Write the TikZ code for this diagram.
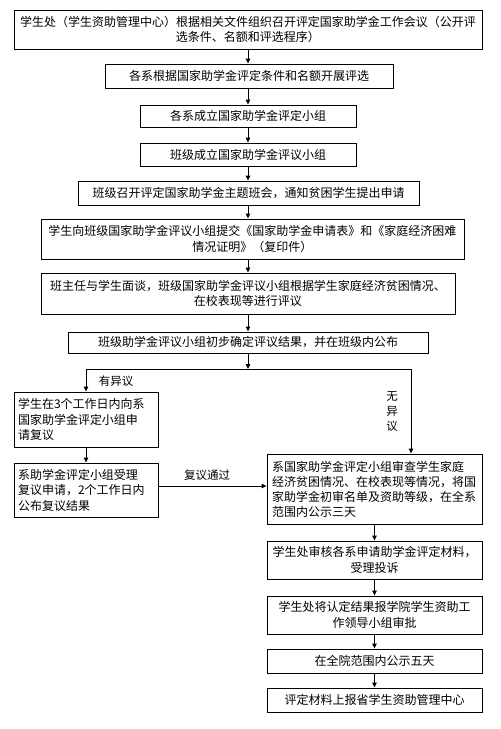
\documentclass[tikz,border=0pt]{standalone}
\usepackage{fontspec}
\newfontfamily\cjk{Noto Sans CJK SC}
\usetikzlibrary{arrows.meta}
\begin{document}
\begin{tikzpicture}[x=1pt,y=-1pt,
  box/.style={draw, line width=0.9pt, inner sep=0pt, align=center,
    font=\cjk\fontsize{12}{15.5}\selectfont},
  lbox/.style={box, align=left},
  arr/.style={line width=0.9pt, -{Triangle[length=5pt,width=4.5pt]}},
  ln/.style={line width=0.9pt},
  lab/.style={font=\cjk\fontsize{11.5}{15}\selectfont, inner sep=0pt}]
\useasboundingbox (0,0) rectangle (501,729);
\node[box, minimum width=468pt, minimum height=39pt] (b1) at (248,29.5)
  {学生处（学生资助管理中心）根据相关文件组织召开评定国家助学金工作会议（公开评\\选条件、名额和评选程序）};
\node[box, minimum width=288pt, minimum height=24pt] (b2) at (249,76)
  {各系根据国家助学金评定条件和名额开展评选};
\node[box, minimum width=216pt, minimum height=22pt] (b3) at (248,116)
  {各系成立国家助学金评定小组};
\node[box, minimum width=216pt, minimum height=23pt] (b4) at (248,154.5)
  {班级成立国家助学金评议小组};
\node[box, minimum width=341pt, minimum height=24pt] (b5) at (248.5,193)
  {班级召开评定国家助学金主题班会，通知贫困学生提出申请};
\node[box, minimum width=423pt, minimum height=40pt] (b6) at (252.5,239)
  {学生向班级国家助学金评议小组提交《国家助学金申请表》和《家庭经济困难\\情况证明》（复印件）};
\node[box, minimum width=414pt, minimum height=41pt] (b7) at (248,293.5)
  {班主任与学生面谈，班级国家助学金评议小组根据学生家庭经济贫困情况、\\在校表现等进行评议};
\node[box, minimum width=360pt, minimum height=21pt] (b8) at (248,342.5)
  {班级助学金评议小组初步确定评议结果，并在班级内公布};
\node[lbox, minimum width=144pt, minimum height=55pt, text width=136pt] (l1) at (86,419.5)
  {学生在3个工作日内向系\\国家助学金评定小组申\\请复议};
\node[lbox, minimum width=144pt, minimum height=54pt, text width=136pt] (l2) at (86,490)
  {系助学金评定小组受理\\复议申请，2个工作日内\\公布复议结果};
\node[lbox, minimum width=215pt, minimum height=70pt, text width=205pt,
  font=\cjk\fontsize{12}{15}\selectfont] (r1) at (374.5,489)
  {系国家助学金评定小组审查学生家庭\\经济贫困情况、在校表现等情况，将国\\家助学金初审名单及资助等级，在全系\\范围内公示三天};
\node[box, minimum width=215pt, minimum height=38pt] (r2) at (374.5,560)
  {学生处审核各系申请助学金评定材料，\\受理投诉};
\node[box, minimum width=215pt, minimum height=38pt] (r3) at (374.5,615)
  {学生处将认定结果报学院学生资助工\\作领导小组审批};
\node[box, minimum width=215pt, minimum height=24pt] (r4) at (374.5,661)
  {在全院范围内公示五天};
\node[box, minimum width=215pt, minimum height=24pt] (r5) at (374.5,700)
  {评定材料上报省学生资助管理中心};
\coordinate (j) at (248,369);
\coordinate (jl) at (86,369);
\coordinate (jr) at (411,369);
\draw[arr] (b1.south -| j) -- (b2.north -| j);
\draw[arr] (b2.south -| j) -- (b3.north -| j);
\draw[arr] (b3.south -| j) -- (b4.north -| j);
\draw[arr] (b4.south -| j) -- (b5.north -| j);
\draw[arr] (b5.south -| j) -- (b6.north -| j);
\draw[arr] (b6.south -| j) -- (b7.north -| j);
\draw[arr] (b7.south -| j) -- (b8.north -| j);
\draw[arr] (b8.south -| j) -- (j);
\draw[ln] (jl) -- (jr);
\draw[arr] (jl) -- (l1.north -| jl);
\draw[arr] (jr) -- (r1.north -| jr);
\draw[arr] (l1.south) -- (l2.north);
\draw[arr] (l2.east |- 0,486) -- (r1.west |- 0,486);
\draw[arr] (r1.south) -- (r2.north);
\draw[arr] (r2.south) -- (r3.north);
\draw[arr] (r3.south) -- (r4.north);
\draw[arr] (r4.south) -- (r5.north);
\node[lab] (t1) at (116,381) {有异议};
\node[lab, align=center, font=\cjk\fontsize{11.5}{15}\selectfont] (t2) at (392,412) {无\\异\\议};
\node[lab] (t3) at (207,475) {复议通过};
\end{tikzpicture}
\end{document}
